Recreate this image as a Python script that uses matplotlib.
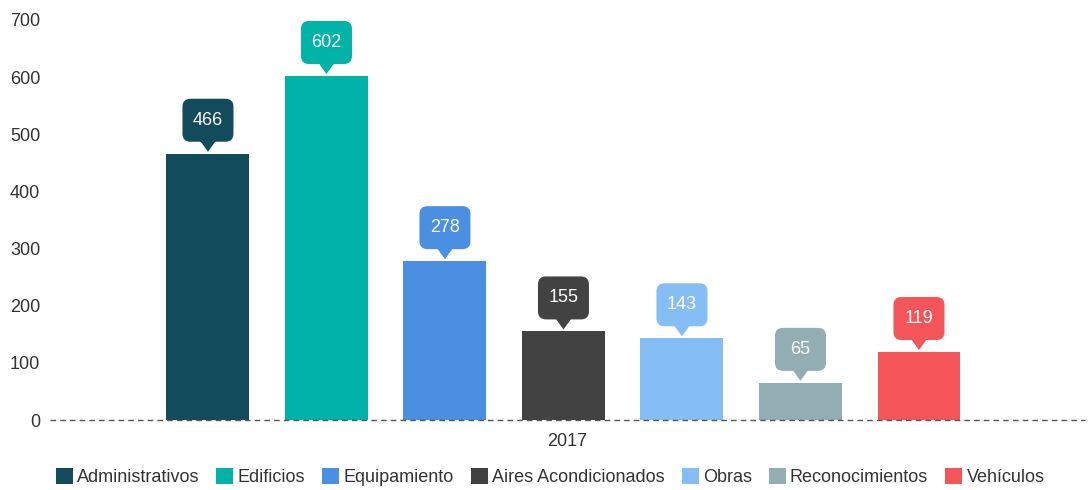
import matplotlib
matplotlib.use("Agg")
import matplotlib.pyplot as plt
from matplotlib.patches import FancyBboxPatch, Polygon, Patch
from matplotlib.transforms import Affine2D, ScaledTranslation

plt.rcParams['font.family'] = ['Liberation Sans', 'DejaVu Sans']

categories = ["Administrativos", "Edificios", "Equipamiento", "Aires Acondicionados",
              "Obras", "Reconocimientos", "Vehículos"]
values = [466, 602, 278, 155, 143, 65, 119]
colors = ["#114b5c", "#00b3a9", "#4a8fe2", "#424242", "#85bdf5", "#93aeb3", "#f45558"]
year_label = "2017"
yticks = [0, 100, 200, 300, 400, 500, 600, 700]

fig = plt.figure(figsize=(10.9, 4.9), dpi=100)
ax = fig.add_axes([50/1090, 70/490, 1035/1090, 400/490])

n = len(values)
xs = [i - (n - 1) / 2 for i in range(n)]
ax.bar(xs, values, width=0.70, color=colors, zorder=2)

xmin, xmax = -4.333, 4.401
ax.set_xlim(xmin, xmax)
ax.set_ylim(0, 700)
ax.set_yticks(yticks)
ax.set_yticklabels([str(t) for t in yticks])
ax.set_xticks([(xmin + xmax) / 2])
ax.set_xticklabels([year_label])
ax.tick_params(axis='both', length=0, labelsize=13, colors='#333333')
ax.tick_params(axis='y', pad=7)
ax.tick_params(axis='x', pad=9)
for s in ax.spines.values():
    s.set_visible(False)

ax.axhline(0, color='#555555', lw=1, ls=(0, (4, 3)), zorder=3, clip_on=False)

# callouts (pixel geometry relative to bar top)
bw, bh, gap = 51, 43, 12
for x, v, c in zip(xs, values, colors):
    tr = Affine2D() + ScaledTranslation(x, v, ax.transData)
    box = FancyBboxPatch((-bw/2, gap), bw, bh, boxstyle="round,pad=0,rounding_size=8",
                         transform=tr, facecolor=c, edgecolor='none', clip_on=False, zorder=4)
    ax.add_patch(box)
    tri = Polygon([(-8, gap + 1), (8, gap + 1), (0, 2)], closed=True, transform=tr,
                  facecolor=c, edgecolor='none', clip_on=False, zorder=4)
    ax.add_patch(tri)
    ax.text(0, gap + bh/2, str(v), transform=tr, ha='center', va='center',
            color='white', fontsize=13, zorder=5)

handles = [Patch(facecolor=c, edgecolor='none') for c in colors]
fig.legend(handles, categories, loc='center', bbox_to_anchor=(550/1090, 1 - 477/490),
           ncol=n, frameon=False, fontsize=13, handlelength=0.95, handleheight=0.95,
           handletextpad=0.22, columnspacing=0.95, labelcolor='#333333')

fig.savefig("out.png", dpi=100)
